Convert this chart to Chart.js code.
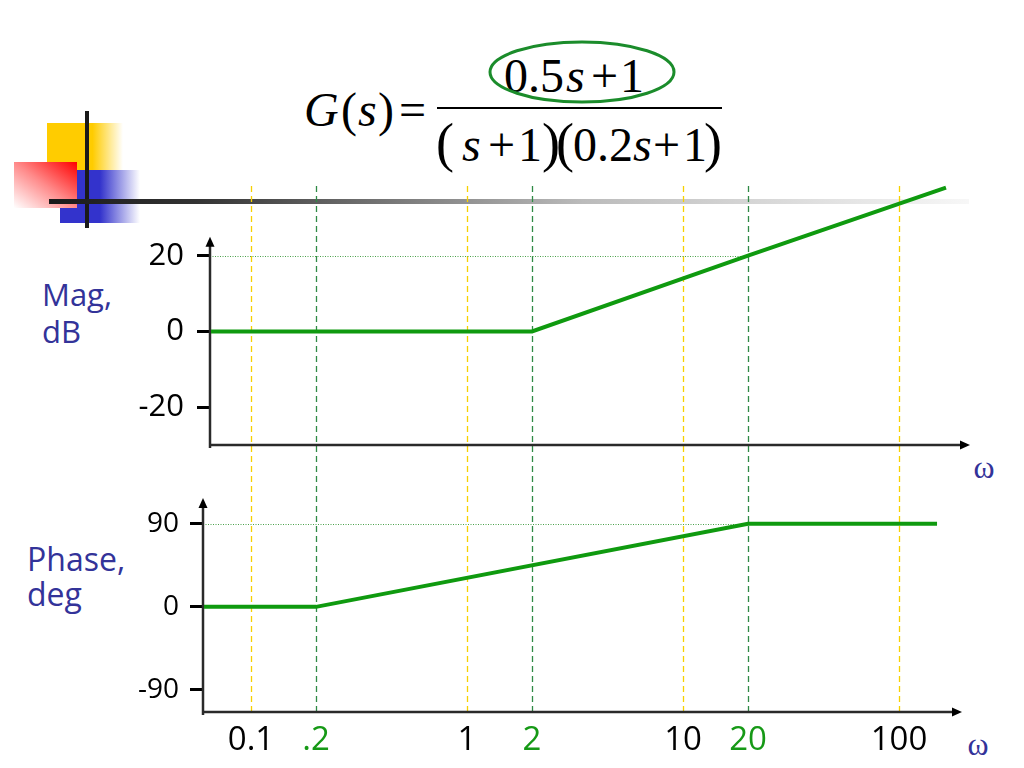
<!DOCTYPE html>
<html><head><meta charset="utf-8">
<script src="https://cdn.jsdelivr.net/npm/chart.js@4"></script>
<style>
html,body{margin:0;padding:0;background:#fff;}
body{width:1024px;height:768px;position:relative;overflow:hidden;}
svg,canvas{position:absolute;left:0;top:0;}
</style></head>
<body>
<svg width="1024" height="768" xmlns="http://www.w3.org/2000/svg">
  <defs>
    <linearGradient id="gY" x1="0" x2="1" y1="0" y2="0">
      <stop offset="0" stop-color="#ffcc00"/><stop offset="0.6" stop-color="#ffcc00"/>
      <stop offset="1" stop-color="#ffcc00" stop-opacity="0"/>
    </linearGradient>
    <linearGradient id="gB" x1="0" x2="1" y1="0" y2="0">
      <stop offset="0" stop-color="#3333cc"/><stop offset="0.5" stop-color="#3333cc"/>
      <stop offset="1" stop-color="#3333cc" stop-opacity="0"/>
    </linearGradient>
    <linearGradient id="gR" x1="1" x2="0" y1="0" y2="1">
      <stop offset="0" stop-color="#ff0000"/><stop offset="0.5" stop-color="#ff8a8a"/>
      <stop offset="1" stop-color="#ffffff"/>
    </linearGradient>
    <linearGradient id="gBar" x1="0" x2="1" y1="0" y2="0">
      <stop offset="0" stop-color="#1a1a1a"/><stop offset="0.16" stop-color="#333"/>
      <stop offset="0.58" stop-color="#bbb"/><stop offset="1" stop-color="#f7f7f7"/>
    </linearGradient>
  </defs>
  <rect x="47" y="123" width="76" height="47" fill="url(#gY)"/>
  <rect x="60" y="170" width="80" height="53" fill="url(#gB)"/>
  <rect x="14" y="162" width="63" height="46" fill="url(#gR)"/>
  <rect x="85" y="111" width="4" height="117" fill="#1a1a1a"/>
  <rect x="49" y="199" width="920" height="5" fill="url(#gBar)"/>

  <g font-family="Liberation Serif, Times New Roman, serif" fill="#000" font-size="48">
    <text y="126"><tspan x="304" font-style="italic">G</tspan><tspan x="341">(</tspan><tspan x="358" font-style="italic">s</tspan><tspan x="378">)</tspan><tspan x="399">=</tspan></text>
    <text y="92"><tspan x="504">0.5</tspan><tspan x="566" font-style="italic">s</tspan><tspan x="591">+</tspan><tspan x="620">1</tspan></text>
    <line x1="437" y1="108" x2="722" y2="108" stroke="#000" stroke-width="2"/>
    <text y="161"><tspan x="436" font-size="54">(</tspan><tspan x="462" font-style="italic">s</tspan><tspan x="488">+</tspan><tspan x="518">1</tspan><tspan x="542" font-size="54">)</tspan><tspan x="556" font-size="54">(</tspan><tspan x="573">0.2</tspan><tspan x="633" font-style="italic">s</tspan><tspan x="653">+</tspan><tspan x="683">1</tspan><tspan x="704" font-size="54">)</tspan></text>
  </g>
  <ellipse cx="582" cy="72" rx="92" ry="30" fill="none" stroke="#1b8c2b" stroke-width="3"/>

  <g font-family="Open Sans, sans-serif" fill="#333399" font-size="31">
    <text x="42" y="306">Mag,</text>
    <text x="42" y="343">dB</text>
    <text x="27" y="571" font-size="32">Phase,</text>
    <text x="27" y="606" font-size="32">deg</text>
  </g>
  <g font-family="Liberation Serif, serif" fill="#333399" font-size="32" text-anchor="middle">
    <text x="984" y="478">ω</text>
    <text x="978" y="755">ω</text>
  </g>
</svg>
<canvas id="mag" width="1024" height="768"></canvas>
<canvas id="phase" width="1024" height="768"></canvas>
<script>
// ---- data ----
const X_TICKS = [0.1, 0.2, 1, 2, 10, 20, 100];
const X_TICK_LABELS = ['0.1', '.2', '1', '2', '10', '20', '100'];
const X_TICK_COLORS = ['#000', '#169916', '#000', '#169916', '#000', '#169916', '#000'];
const DECADE_LINES = [0.1, 1, 10, 100];
const CORNER_LINES = [0.2, 2, 20];
const MAG_TICKS = [-20, 0, 20];
const MAG_TICK_LABELS = ['-20', '0', '20'];
const PHASE_TICKS = [-90, 0, 90];
const PHASE_TICK_LABELS = ['-90', '0', '90'];
const MAG_OMEGA = [0.0653, 2, 20, 165];
const MAG_DB = [0, 0, 20, 38];
const PHASE_OMEGA = [0.0606, 0.2, 20, 150];
const PHASE_DEG = [0, 0, 90, 90];
const MAG_REF = 20;     // dotted reference level (dB)
const PHASE_REF = 90;   // dotted reference level (deg)
const REF_OMEGA = 20;

// ---- layout helpers (log mapping: pixel of omega=1, pixels per decade) ----
const PX_AT_1 = 467, PX_PER_DEC = 216;
const omegaAtPx = p => Math.pow(10, (p - PX_AT_1) / PX_PER_DEC);

const GREEN = '#0f9a0f';
const AXIS = '#2a2a2a';

function arrowUp(ctx, x, y) {
  ctx.beginPath(); ctx.moveTo(x, y); ctx.lineTo(x - 4.5, y + 10); ctx.lineTo(x + 4.5, y + 10); ctx.closePath(); ctx.fill();
}
function arrowRight(ctx, x, y) {
  ctx.beginPath(); ctx.moveTo(x, y); ctx.lineTo(x - 10, y - 4.5); ctx.lineTo(x - 10, y + 4.5); ctx.closePath(); ctx.fill();
}

function axesPlugin(opts) {
  return {
    id: 'axesDeco',
    beforeDatasetsDraw(chart) {
      const ctx = chart.ctx, a = chart.chartArea, xs = chart.scales.x, ys = chart.scales.y;
      ctx.save();
      if (opts.grid) {
        ctx.lineWidth = 1.3;
        ctx.setLineDash([6, 4]);
        ctx.strokeStyle = '#f7d100';
        DECADE_LINES.forEach(v => { const x = Math.round(xs.getPixelForValue(v)) + 0.5; ctx.beginPath(); ctx.moveTo(x, 186); ctx.lineTo(x, 716); ctx.stroke(); });
        ctx.strokeStyle = '#2f8a46';
        CORNER_LINES.forEach(v => { const x = Math.round(xs.getPixelForValue(v)) + 0.5; ctx.beginPath(); ctx.moveTo(x, 186); ctx.lineTo(x, 716); ctx.stroke(); });
      }
      // dotted reference line
      ctx.setLineDash([1, 1.5]);
      ctx.strokeStyle = '#4aa04a';
      ctx.lineWidth = 1;
      const yr = Math.round(ys.getPixelForValue(opts.ref)) + 0.5;
      ctx.beginPath(); ctx.moveTo(a.left, yr); ctx.lineTo(xs.getPixelForValue(REF_OMEGA), yr); ctx.stroke();
      // axes
      ctx.setLineDash([]);
      ctx.strokeStyle = AXIS; ctx.fillStyle = '#000'; ctx.lineWidth = 2.5;
      const yTop = ys.getPixelForValue(opts.yTip);
      ctx.beginPath(); ctx.moveTo(a.left, a.bottom + 3); ctx.lineTo(a.left, yTop + 8); ctx.stroke();
      arrowUp(ctx, a.left, yTop);
      ctx.beginPath(); ctx.moveTo(a.left - 1, a.bottom); ctx.lineTo(a.right - 8, a.bottom); ctx.stroke();
      arrowRight(ctx, a.right, a.bottom);
      ctx.restore();
    }
  };
}

function yScale(min, max, ticks, labels, width, size, pad) {
  return {
    type: 'linear', min, max,
    afterFit: s => { s.width = width; },
    afterBuildTicks: s => { s.ticks = ticks.map(v => ({ value: v })); },
    ticks: { font: { family: 'Open Sans', size }, color: '#000', padding: pad,
             callback: (v, i) => labels[i] },
    grid: { drawOnChartArea: false, drawTicks: true, tickLength: 13, tickWidth: 3, tickColor: '#000' },
    border: { display: false }
  };
}

// Magnitude chart: plot area x 210..970, y 180..445
new Chart(document.getElementById('mag'), {
  type: 'line',
  data: { datasets: [{
    data: MAG_OMEGA.map((w, i) => ({ x: w, y: MAG_DB[i] })),
    borderColor: GREEN, borderWidth: 4, pointRadius: 0, tension: 0, clip: false, fill: false
  }] },
  options: {
    responsive: false, animation: false, events: [],
    layout: { padding: { left: 0, right: 1024 - 970, top: 180, bottom: 768 - 445 } },
    plugins: { legend: { display: false }, tooltip: { enabled: false } },
    scales: {
      x: { type: 'logarithmic', min: omegaAtPx(210), max: omegaAtPx(970), display: false },
      y: yScale(-30, 40, MAG_TICKS, MAG_TICK_LABELS, 210, 31, 13)
    }
  },
  plugins: [axesPlugin({ grid: true, ref: MAG_REF, yTip: 25 })]
});

// Phase chart: plot area x 203..962, y 498..712
new Chart(document.getElementById('phase'), {
  type: 'line',
  data: { datasets: [{
    data: PHASE_OMEGA.map((w, i) => ({ x: w, y: PHASE_DEG[i] })),
    borderColor: GREEN, borderWidth: 4, pointRadius: 0, tension: 0, clip: false, fill: false
  }] },
  options: {
    responsive: false, animation: false, events: [],
    layout: { padding: { left: 0, right: 1024 - 962, top: 498, bottom: 0 } },
    plugins: { legend: { display: false }, tooltip: { enabled: false } },
    scales: {
      x: { type: 'logarithmic', min: omegaAtPx(203), max: omegaAtPx(962),
           afterFit: s => { s.height = 768 - 712; },
           afterBuildTicks: s => { s.ticks = X_TICKS.map(v => ({ value: v })); },
           ticks: { autoSkip: false, maxRotation: 0, minRotation: 0, padding: 9,
                    font: { family: 'Open Sans', size: 33 },
                    color: c => X_TICK_COLORS[c.index] || '#000',
                    callback: (v, i) => X_TICK_LABELS[i] },
           grid: { drawOnChartArea: false, drawTicks: false },
           border: { display: false } },
      y: yScale(-114, 118, PHASE_TICKS, PHASE_TICK_LABELS, 203, 28, 11)
    }
  },
  plugins: [axesPlugin({ grid: false, ref: PHASE_REF, yTip: 118 })]
});
</script>
</body></html>
